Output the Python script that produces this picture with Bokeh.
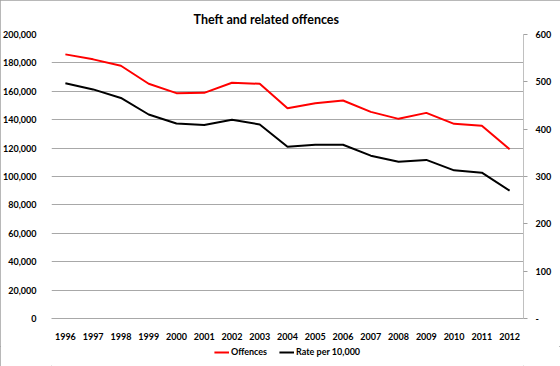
from bokeh.plotting import figure
from bokeh.layouts import column
from bokeh.models import (Range1d, LinearAxis, FixedTicker, NumeralTickFormatter,
                          Legend, LegendItem, FactorRange, ColumnDataSource)
from bokeh.embed import file_html
from bokeh.resources import INLINE

years = [str(y) for y in range(1996, 2013)]
offences = [186000, 182500, 178000, 165300, 158700, 158900, 166000, 165300, 148000,
            151600, 153500, 145500, 140600, 144800, 137100, 135700, 119200]
rate = [497, 484, 466, 431, 412, 409, 420, 410, 363, 367, 367, 344, 331, 335, 313, 308, 270]
left_ticks = list(range(0, 200001, 20000))
right_ticks = list(range(0, 601, 100))
series_names = ["Offences", "Rate per 10,000"]
series_colors = ["#ff0000", "#000000"]

FONT = "Lato"
GRID = "#a8a8a8"
FS = "9px"

src = ColumnDataSource(dict(year=years, offences=offences, rate=rate))

p = figure(width=560, height=346, output_backend="svg", toolbar_location=None,
           x_range=FactorRange(*years, range_padding=0),
           y_range=Range1d(0, 200000),
           min_border_left=49, min_border_right=37, min_border_top=34, min_border_bottom=28)
p.extra_y_ranges = {"rate": Range1d(0, 600)}

p.title.text = "Theft and related offences"
p.title.text_font = FONT
p.title.text_font_size = "12.5px"
p.title.text_font_style = "bold"
p.title.text_color = "#000000"
p.title.align = "left"
p.title.offset = 142
p.title.standoff = 16

p.outline_line_color = None
p.background_fill_color = "white"
p.border_fill_color = "white"

# x axis
xa = p.xaxis[0]
xa.axis_line_color = GRID
xa.major_tick_line_color = None
xa.minor_tick_line_color = None
xa.major_label_text_font = FONT
xa.major_label_text_font_size = FS
xa.major_label_text_font_style = "bold"
xa.major_label_text_color = "#000000"
xa.major_label_standoff = 8
p.xgrid.grid_line_color = None

# left axis
ya = p.yaxis[0]
ya.ticker = FixedTicker(ticks=left_ticks)
ya.formatter = NumeralTickFormatter(format="0,0")
ya.axis_line_color = None
ya.major_tick_line_color = None
ya.minor_tick_line_color = None
ya.major_label_text_font = FONT
ya.major_label_text_font_size = FS
ya.major_label_text_font_style = "bold"
ya.major_label_text_color = "#000000"
ya.major_label_standoff = 9
p.ygrid.ticker = FixedTicker(ticks=left_ticks)
p.ygrid.grid_line_color = GRID
p.ygrid.grid_line_width = 1

# right axis
ra = LinearAxis(y_range_name="rate", ticker=FixedTicker(ticks=right_ticks))
ra.major_label_overrides = {0: "-"}
ra.axis_line_color = "#c0c0c0"
ra.major_tick_line_color = "#a0a0a0"
ra.major_tick_in = 0
ra.major_tick_out = 4
ra.minor_tick_line_color = None
ra.major_label_text_font = FONT
ra.major_label_text_font_size = FS
ra.major_label_text_font_style = "bold"
ra.major_label_text_color = "#000000"
ra.major_label_standoff = 8
p.add_layout(ra, "right")

p.line("year", "offences", source=src, line_color=series_colors[0], line_width=2)
p.line("year", "rate", source=src, y_range_name="rate", line_color=series_colors[1], line_width=2)

# legend strip below the chart (its lines lie outside its own view; only the key shows)
lg = figure(width=560, height=20, output_backend="svg", toolbar_location=None,
            x_axis_type=None, y_axis_type=None, min_border=0,
            x_range=FactorRange(*years, range_padding=0), y_range=Range1d(0, 1))
lg.outline_line_color = None
lg.xgrid.visible = False
lg.ygrid.visible = False
items = []
for name, col, field in zip(series_names, series_colors, ["offences", "rate"]):
    r = lg.line("year", field, source=src, line_color=col, line_width=2)
    items.append(LegendItem(label=name, renderers=[r]))
legend = Legend(items=items, location="top_center", orientation="horizontal")
legend.border_line_color = None
legend.background_fill_alpha = 0
legend.padding = 0
legend.margin = 0
legend.spacing = 12
legend.glyph_width = 15
legend.glyph_height = 10
legend.label_height = 10
legend.label_standoff = 2
legend.label_text_font = FONT
legend.label_text_font_size = FS
legend.label_text_font_style = "bold"
legend.label_text_color = "#000000"
lg.add_layout(legend)

layout = column(p, lg, spacing=0,
                styles={"outline": "1px solid #a0a0a0", "outline-offset": "-1px"})
open("out.html", "w").write(file_html(layout, INLINE))
